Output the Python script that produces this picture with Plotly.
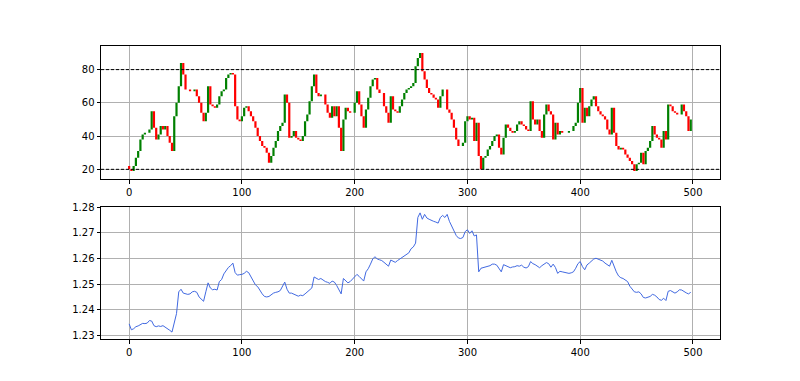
import plotly.graph_objects as go

# ---------------- data ----------------
bar_index = list(range(0, 500, 2))

rsi_close = [
    20, 19, 22, 27, 31, 38, 41, 42, 42, 44,
    55, 45, 38, 41, 46, 44, 46, 40, 36, 31,
    52, 60, 70, 84, 77, 68, 68, 67, 67, 68,
    64, 60, 54, 49, 54, 70, 59, 58, 57, 59,
    64, 67, 68, 75, 77, 78, 77, 58, 50, 49,
    52, 57, 58, 55, 52, 49, 45, 40, 37, 34,
    33, 30, 24, 28, 33, 37, 43, 46, 48, 65,
    60, 39, 40, 43, 39, 38, 37, 40, 49, 53,
    61, 70, 77, 66, 64, 65, 65, 59, 54, 51,
    58, 52, 58, 45, 31, 50, 57, 55, 54, 54,
    60, 67, 59, 52, 45, 56, 63, 70, 74, 75,
    68, 66, 66, 58, 54, 48, 64, 56, 55, 54,
    58, 62, 66, 68, 69, 70, 72, 82, 87, 90,
    79, 74, 69, 66, 65, 63, 62, 57, 64, 68,
    68, 56, 54, 50, 45, 38, 34, 34, 36, 49,
    52, 50, 51, 37, 48, 28, 20, 27, 28, 32,
    34, 37, 40, 41, 33, 29, 39, 47, 45, 43,
    42, 43, 47, 49, 47, 46, 44, 43, 61, 50,
    47, 50, 43, 39, 53, 59, 55, 53, 38, 48,
    41, 43, 42, 42, 42, 43, 43, 46, 48, 60,
    69, 48, 57, 52, 58, 62, 64, 58, 55, 53,
    52, 50, 44, 41, 57, 42, 34, 32, 33, 32,
    29, 27, 25, 23, 19, 23, 24, 30, 23, 31,
    33, 37, 46, 41, 39, 38, 33, 43, 38, 59,
    58, 55, 54, 53, 53, 59, 55, 52, 43, 50,
]

price_close = [
    1.2345, 1.2322, 1.2326, 1.2334, 1.2337, 1.2343, 1.2347, 1.2346, 1.2348, 1.2358,
    1.2356, 1.2338, 1.2334, 1.2337, 1.2335, 1.2338, 1.2333, 1.2328, 1.2320, 1.2313,
    1.2350, 1.2385, 1.2470, 1.2480, 1.2465, 1.2462, 1.2460, 1.2462, 1.2470, 1.2472,
    1.2468, 1.2450, 1.2440, 1.2433, 1.2470, 1.2505, 1.2485, 1.2478, 1.2480, 1.2477,
    1.2510, 1.2518, 1.2540, 1.2555, 1.2565, 1.2572, 1.2582, 1.2545, 1.2535, 1.2537,
    1.2538, 1.2542, 1.2550, 1.2545, 1.2530, 1.2515, 1.2497, 1.2490, 1.2475, 1.2462,
    1.2452, 1.2450, 1.2452, 1.2460, 1.2465, 1.2468, 1.2470, 1.2475, 1.2495, 1.2508,
    1.2480, 1.2465, 1.2465, 1.2460, 1.2455, 1.2453, 1.2457, 1.2455, 1.2462, 1.2470,
    1.2477, 1.2485, 1.2528, 1.2522, 1.2518, 1.2522, 1.2515, 1.2510, 1.2507, 1.2503,
    1.2512, 1.2508, 1.2495, 1.2480, 1.2462, 1.2522, 1.2512, 1.2505, 1.2510, 1.2520,
    1.2530, 1.2538, 1.2530, 1.2522, 1.2512, 1.2548, 1.2560, 1.2578, 1.2598, 1.2607,
    1.2598, 1.2595, 1.2592, 1.2585, 1.2578, 1.2570, 1.2594, 1.2588, 1.2585, 1.2592,
    1.2598, 1.2603, 1.2608, 1.2615, 1.2622, 1.2638, 1.2645, 1.2660, 1.2760, 1.2778,
    1.2753, 1.2772, 1.2758, 1.2753, 1.2748, 1.2745, 1.2742, 1.2738, 1.2760, 1.2768,
    1.2760, 1.2772, 1.2745, 1.2725, 1.2712, 1.2690, 1.2680, 1.2678, 1.2682, 1.2705,
    1.2712, 1.2698, 1.2708, 1.2688, 1.2692, 1.2548, 1.2562, 1.2565, 1.2566, 1.2568,
    1.2572, 1.2578, 1.2578, 1.2574, 1.2560, 1.2548, 1.2576, 1.2572, 1.2566, 1.2564,
    1.2567, 1.2568, 1.2572, 1.2570, 1.2574, 1.2566, 1.2563, 1.2568, 1.2588, 1.2580,
    1.2576, 1.2568, 1.2564, 1.2572, 1.2578, 1.2584, 1.2580, 1.2566, 1.2578, 1.2565,
    1.2542, 1.2550, 1.2548, 1.2546, 1.2543, 1.2542, 1.2544, 1.2548, 1.2562, 1.2580,
    1.2588, 1.2568, 1.2556, 1.2575, 1.2582, 1.2592, 1.2598, 1.2601, 1.2597, 1.2592,
    1.2590, 1.2582, 1.2574, 1.2570, 1.2593, 1.2568, 1.2548, 1.2532, 1.2525, 1.2522,
    1.2515, 1.2510, 1.2492, 1.2480, 1.2470, 1.2468, 1.2470, 1.2462, 1.2448, 1.2446,
    1.2450, 1.2452, 1.2460, 1.2457, 1.2450, 1.2440, 1.2437, 1.2445, 1.2436, 1.2472,
    1.2475, 1.2470, 1.2465, 1.2470, 1.2478, 1.2477, 1.2470, 1.2466, 1.2462, 1.2468,
]

rsi_levels = [20, 80]
x_ticks = [0, 100, 200, 300, 400, 500]
rsi_ticks = [20, 40, 60, 80]
price_ticks = [1.23, 1.24, 1.25, 1.26, 1.27, 1.28]

# ---------------- build bars ----------------
rsi_open = [rsi_close[0] + 2] + rsi_close[:-1]
gx, gy, rx, ry = [], [], [], []
for x, o, c in zip(bar_index, rsi_open, rsi_close):
    if c >= o:
        gx += [x, x, None]; gy += [o, c, None]
    else:
        rx += [x, x, None]; ry += [o, c, None]

fig = go.Figure()
fig.add_trace(go.Scatter(x=gx, y=gy, mode="lines", line=dict(color="#008000", width=2.2),
                         xaxis="x", yaxis="y", showlegend=False, hoverinfo="skip"))
fig.add_trace(go.Scatter(x=rx, y=ry, mode="lines", line=dict(color="#ff0000", width=2.2),
                         xaxis="x", yaxis="y", showlegend=False, hoverinfo="skip"))
fig.add_trace(go.Scatter(x=bar_index, y=price_close, mode="lines",
                         line=dict(color="royalblue", width=1),
                         xaxis="x2", yaxis="y2", showlegend=False))

for lv in rsi_levels:
    fig.add_shape(type="line", xref="x domain", yref="y", x0=0, x1=1, y0=lv, y1=lv,
                  line=dict(color="black", width=1, dash="3px,2px"))

axis_common = dict(showline=True, linecolor="black", linewidth=1, mirror=True,
                   ticks="outside", ticklen=3.5, tickcolor="black", tickwidth=0.8,
                   showgrid=True, gridcolor="#b0b0b0", gridwidth=0.8, zeroline=False,
                   tickfont=dict(family="DejaVu Sans", size=10, color="black"))

fig.update_layout(
    width=800, height=381,
    margin=dict(l=93, r=88, t=38, b=50),
    paper_bgcolor="white", plot_bgcolor="white",
    xaxis=dict(domain=[0, 1], anchor="y", range=[-24.95, 523.95], tickvals=x_ticks, **axis_common),
    yaxis=dict(domain=[0.545, 1], anchor="x", range=[14.0, 94.2], tickvals=rsi_ticks, **axis_common),
    xaxis2=dict(domain=[0, 1], anchor="y2", range=[-24.95, 523.95], tickvals=x_ticks, **axis_common),
    yaxis2=dict(domain=[0, 0.4515], anchor="x2", range=[1.2286, 1.2802], tickvals=price_ticks,
                tickformat=".2f", **axis_common),
)

fig.write_html("out.html")
